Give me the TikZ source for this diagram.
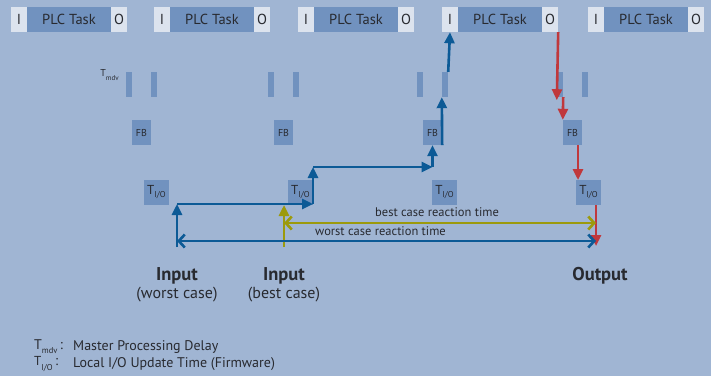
\documentclass[tikz,border=0pt]{standalone}
\usepackage{fontspec}
\setmainfont{PT Sans}
\usepackage{xcolor}
\usetikzlibrary{arrows.meta,calc}
\definecolor{bgblue}{RGB}{160,181,211}
\definecolor{boxblue}{RGB}{113,146,191}
\definecolor{cellgray}{RGB}{220,227,238}
\definecolor{txtgray}{RGB}{40,42,48}
\definecolor{flowblue}{RGB}{12,90,150}
\definecolor{flowred}{RGB}{192,56,60}
\definecolor{flowolive}{RGB}{156,154,12}
\tikzstyle{task}=[rectangle, fill=boxblue, minimum width=84pt, minimum height=25pt, inner sep=0pt, text=txtgray, font=\fontsize{14.5}{14.5}\selectfont]
\tikzstyle{cell} = [task, fill=cellgray, minimum width=16pt]
\tikzstyle{bar} = [rectangle, fill=boxblue, minimum width=6pt, minimum height=25pt, inner sep=0pt]
\tikzstyle{fb} = [bar, minimum width=19pt, text=txtgray, font=\fontsize{10}{10}\selectfont]
\tikzstyle{tio} = [fb, minimum width=25pt]
\tikzstyle{flow} = [draw, line width=2.6pt, -{Triangle[length=11pt,width=10pt]}, flowblue]
\tikzstyle{back} = [flow, flowred]
\tikzstyle{span} = [draw, line width=2.6pt, {Straight Barb[length=6pt,width=13pt]}-{Straight Barb[length=6pt,width=13pt]}]
\tikzstyle{lbl} = [inner sep=0pt, text=txtgray, font=\fontsize{12.5}{12.5}\selectfont]
\tikzstyle{head} = [lbl, font=\fontsize{18.5}{18.5}\selectfont\bfseries]
\tikzstyle{sub} = [lbl, font=\fontsize{16}{16}\selectfont]
\tikzstyle{key} = [lbl, anchor=west, font=\fontsize{14}{14}\selectfont]
\newcommand{\tio}{{\fontsize{13}{13}\selectfont T}\raisebox{-0.6ex}{\fontsize{8.5}{8.5}\selectfont I/O}}
\newcommand{\tmdv}{{\fontsize{14}{14}\selectfont T}\raisebox{-0.6ex}{\fontsize{8.5}{8.5}\selectfont mdv}}

\begin{document}
\begin{tikzpicture}[x=1pt, y=-1pt]

				\fill[bgblue] (0,0) rectangle (711,376);
				\useasboundingbox (0,0) rectangle (711,376);

				% PLC task cycles
				\node[cell] (i_1) at (19, 19.5) {I};
				\node[task] (p_1) at (69, 19.5) {PLC Task};
				\node[cell] (o_1) at (119, 19.5) {O};
				\node[cell] (i_2) at (162, 19.5) {I};
				\node[task] (p_2) at (212, 19.5) {PLC Task};
				\node[cell] (o_2) at (262, 19.5) {O};
				\node[cell] (i_3) at (306, 19.5) {I};
				\node[task] (p_3) at (356, 19.5) {PLC Task};
				\node[cell] (o_3) at (406, 19.5) {O};
				\node[cell] (i_4) at (450, 19.5) {I};
				\node[task] (p_4) at (500, 19.5) {PLC Task};
				\node[cell] (o_4) at (550, 19.5) {O};
				\node[cell] (i_5) at (596, 19.5) {I};
				\node[task] (p_5) at (646, 19.5) {PLC Task};
				\node[cell] (o_5) at (696, 19.5) {O};

				% master delay
				\node[bar] (m_1) at (129, 84.5) {};
				\node[bar] (m_2) at (154, 84.5) {};
				\node[bar] (m_3) at (271, 84.5) {};
				\node[bar] (m_4) at (296, 84.5) {};
				\node[bar] (m_5) at (420, 84.5) {};
				\node[bar] (m_6) at (445, 84.5) {};
				\node[bar] (m_7) at (560, 84.5) {};
				\node[bar] (m_8) at (585, 84.5) {};
				\node[lbl, anchor=east] (mdv) at (119, 75) {\fontsize{10}{10}\selectfont T\raisebox{-0.8ex}{\fontsize{7}{7}\selectfont mdv}};

				\node[fb] (fb_1) at (141.5, 132.5) {FB};
				\node[fb] (fb_2) at (283.5, 132.5) {FB};
				\node[fb] (fb_3) at (432.5, 132.5) {FB};
				\node[fb] (fb_4) at (572.5, 132.5) {FB};

				\node[tio] (t_1) at (156.5, 192.5) {\tio};
				\node[tio] (t_2) at (300.5, 192.5) {\tio};
				\node[tio] (t_3) at (444.5, 192.5) {\tio};
				\node[tio] (t_4) at (588.5, 192.5) {\tio};

				% free ends
				\coordinate (w_1) at (177, 247);
				\coordinate (w_2) at (177, 204);
				\coordinate (w_3) at (313, 204);
				\coordinate (w_4) at (313, 167);
				\coordinate (w_5) at (432.5, 167);
				\coordinate (b_1) at (284, 247);
				\coordinate (b_2) at (284, 205);
				\coordinate (r_1) at (578, 145);
				\coordinate (r_2) at (578, 180);
				\coordinate (r_3) at (596, 205);
				\coordinate (r_4) at (596, 246);
				\coordinate (e_1) at (284, 223);
				\coordinate (e_2) at (596, 223);
				\coordinate (e_3) at (177, 241);
				\coordinate (e_4) at (596, 241);

				% input to output
				\draw[flow] (w_1) -- (w_2);
				\draw[flow] (w_2) -- (w_3);
				\draw[flow] (w_3) -- (w_4);
				\draw[flow] (w_4) -- (w_5);
				\draw[flow] (w_5) -- (fb_3.south);
				\draw[flow] (fb_3.south east) -- (m_6.south west);
				\draw[flow] (m_6.north east) -- (i_4.south);
				\draw[flow, flowolive] (b_1) -- (b_2);

				\draw[back] (o_4.south east) -- ($(m_7.south west)+(0,3)$);
				\draw[back] (m_7.south east) -- (fb_4.north west);
				\draw[back] (r_1) -- (r_2);
				\draw[back] (r_3) -- (r_4);

				\draw[span, flowolive] (e_1) -- (e_2) node[lbl, midway, above=5pt, xshift=-3pt] (best) {best case reaction time};
				\draw[span, flowblue] (e_3) -- (e_4) node[lbl, midway, above=4pt, xshift=-6pt] (worst) {worst case reaction time};

				\node[head] (in_1) at (177, 276) {Input};
				\node[sub] (in_1b) at (177, 295) {(worst case)};
				\node[head] (in_2) at (284, 276) {Input};
				\node[sub] (in_2b) at (284, 295) {(best case)};
				\node[head] (out) at (600, 276) {Output};

				% legend
				\node[key] (k_1) at (34, 347) {\tmdv\,:};
				\node[key] (d_1) at (73, 347) {Master Processing Delay};
				\node[key] (k_2) at (34, 364) {\tio\,:};
				\node[key] (d_2) at (73, 364) {Local I/O Update Time (Firmware)};
			\end{tikzpicture}
\end{document}
